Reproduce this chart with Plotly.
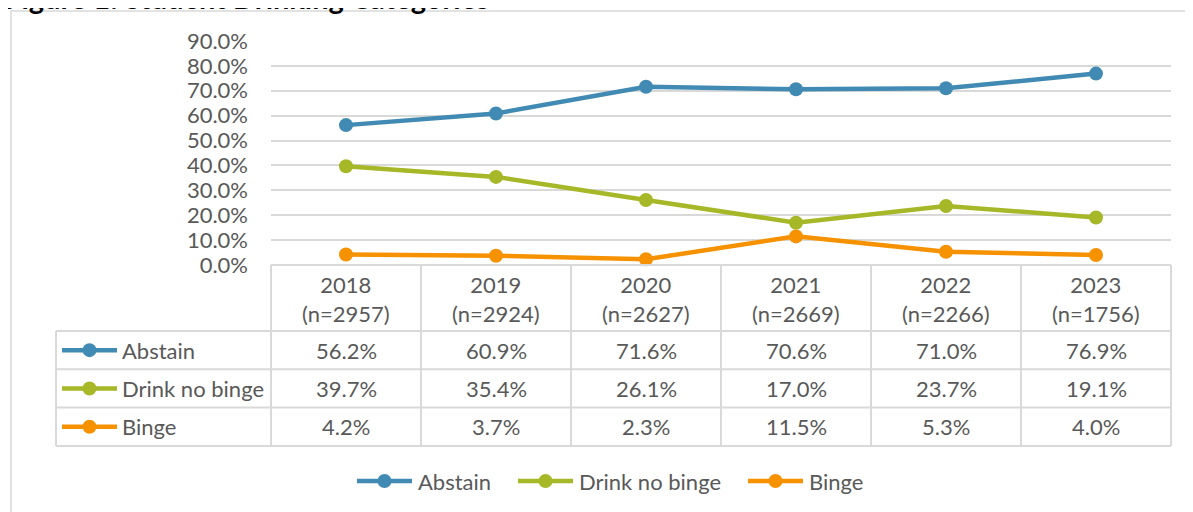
import plotly.graph_objects as go

# ---------------- data ----------------
years = ["2018", "2019", "2020", "2021", "2022", "2023"]
sample_sizes = [2957, 2924, 2627, 2669, 2266, 1756]
series_names = ["Abstain", "Drink no binge", "Binge"]
abstain = [0.562, 0.609, 0.716, 0.706, 0.710, 0.769]
drink_no_binge = [0.397, 0.354, 0.261, 0.170, 0.237, 0.191]
binge = [0.042, 0.037, 0.023, 0.115, 0.053, 0.040]
title_text = "Figure 1: Student Drinking Categories"

# ---------------- styling ----------------
W, H = 1193, 512
OFF = 8  # page body margin: layout positions below are given in window pixels
FONT = "Lato"
TXT = "#595959"
GRID = "#D9D9D9"
colors = ["#418AB3", "#A6B727", "#F69200"]
FS = 22


def px(x):
    return (x - OFF) / W


def py(y):
    return 1 - (y - OFF) / H


# plot area in window pixels
PX0, PX1 = 271, 1171
PY_TOP, PY_ZERO = 41, 265
ymax = 0.9

fig = go.Figure()
series = [abstain, drink_no_binge, binge]
for name, vals, col in zip(series_names, series, colors):
    fig.add_trace(go.Scatter(
        x=years, y=vals, name=name, mode="lines+markers",
        line=dict(color=col, width=4.5),
        marker=dict(color=col, size=14),
        cliponaxis=False, showlegend=False,
    ))

fig.update_layout(
    template="none",
    width=W, height=H,
    margin=dict(l=0, r=0, t=0, b=0, pad=0, autoexpand=False),
    paper_bgcolor="white", plot_bgcolor="white",
    font=dict(family=FONT, color=TXT, size=FS),
    showlegend=False,
    xaxis=dict(domain=[px(PX0), px(PX1)], type="category",
               range=[-0.5, len(years) - 0.5], automargin=False,
               showticklabels=False, showgrid=False, zeroline=False,
               showline=False, ticks=""),
    yaxis=dict(domain=[py(PY_ZERO), py(PY_TOP)], range=[0, ymax],
               automargin=False,
               dtick=0.1, tickformat=".1%", showgrid=True,
               gridcolor=GRID, gridwidth=1.5, zeroline=False,
               showline=False, ticks="", ticklabelstandoff=22,
               tickfont=dict(size=FS, color=TXT)),
)

shapes = []
annotations = []

# outer chart frame
shapes.append(dict(type="rect", xref="paper", yref="paper",
                   x0=px(11), x1=px(W + 30), y0=py(11), y1=py(H + 30),
                   line=dict(color=GRID, width=1.5), layer="below"))

# data table geometry
n = len(years)
colw = (PX1 - PX0) / n
col_edges = [PX0 + colw * i for i in range(n + 1)]
header_top, header_bot = 265, 331
row_h = 38.3
row_edges = [header_bot + row_h * i for i in range(len(series_names) + 1)]
TBL_LEFT = 56

# horizontal lines
shapes.append(dict(type="line", xref="paper", yref="paper",
                   x0=px(PX0), x1=px(PX1), y0=py(header_top), y1=py(header_top),
                   line=dict(color=GRID, width=2)))
for ry in row_edges:
    shapes.append(dict(type="line", xref="paper", yref="paper",
                       x0=px(TBL_LEFT), x1=px(PX1), y0=py(ry), y1=py(ry),
                       line=dict(color=GRID, width=2)))
# vertical lines
for cx in col_edges:
    shapes.append(dict(type="line", xref="paper", yref="paper",
                       x0=px(cx), x1=px(cx), y0=py(header_top), y1=py(row_edges[-1]),
                       line=dict(color=GRID, width=2)))
shapes.append(dict(type="line", xref="paper", yref="paper",
                   x0=px(TBL_LEFT), x1=px(TBL_LEFT), y0=py(header_bot), y1=py(row_edges[-1]),
                   line=dict(color=GRID, width=2)))


def key_glyph(x_left, cy, col):
    """legend key: a line with a dot in the middle (55 px wide)"""
    shapes.append(dict(type="line", xref="paper", yref="paper",
                       x0=px(x_left), x1=px(x_left + 55), y0=py(cy), y1=py(cy),
                       line=dict(color=col, width=4.5)))
    cx = x_left + 27.5
    shapes.append(dict(type="circle", xref="paper", yref="paper",
                       x0=px(cx - 7), x1=px(cx + 7), y0=py(cy - 7), y1=py(cy + 7),
                       fillcolor=col, line=dict(color=col, width=0)))


def text(x, y, s, anchor="center", size=FS, color=TXT):
    annotations.append(dict(xref="paper", yref="paper", x=px(x), y=py(y),
                            text=s, showarrow=False, xanchor=anchor,
                            yanchor="middle",
                            font=dict(size=size, color=color, family=FONT)))


# header texts
for i, (yr, ns) in enumerate(zip(years, sample_sizes)):
    cx = PX0 + colw * (i + 0.5)
    text(cx, (header_top + header_bot) / 2 + 1, f"{yr}<br>(n={ns})")

# row labels with legend keys + values
for r, (name, vals, col) in enumerate(zip(series_names, series, colors)):
    cy = (row_edges[r] + row_edges[r + 1]) / 2
    key_glyph(62, cy, col)
    text(120, cy, name, anchor="left")
    for i, v in enumerate(vals):
        cx = PX0 + colw * (i + 0.5)
        text(cx, cy, f"{v * 100:.1f}%")

# bottom legend
legend_x = [357, 518, 748]
for name, col, lx in zip(series_names, colors, legend_x):
    key_glyph(lx, 481, col)
    text(lx + 59, 481, name, anchor="left")

# title (partly cut off at top, as in reference)
text(3, -2.5, f"<b>{title_text}</b>", anchor="left", size=29, color="#000000")

fig.update_layout(shapes=shapes, annotations=annotations)
fig.write_html("out.html")
